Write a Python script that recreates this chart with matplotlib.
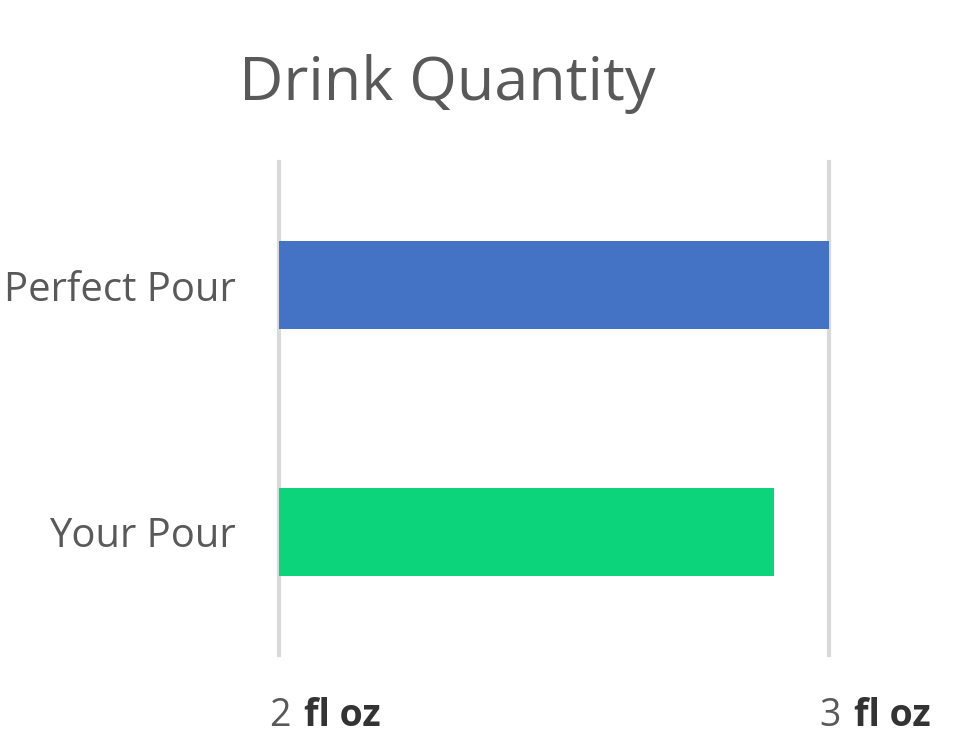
import matplotlib
matplotlib.use("Agg")
import matplotlib.pyplot as plt
from matplotlib.transforms import blended_transform_factory

categories = ["Your Pour", "Perfect Pour"]
values = [2.9, 3.0]
colors = ["#0cd47a", "#4472c4"]
tick_values = [2, 3]
tick_units = "fl oz"

plt.rcParams["font.family"] = ["Open Sans", "DejaVu Sans"]

fig = plt.figure(figsize=(9.67, 7.54), dpi=100)
ax = fig.add_axes([0.2885, 0.1313, 0.5688, 0.6538])

ax.barh(range(len(categories)), [v - 2 for v in values], left=2, height=0.357,
        color=colors, zorder=3)
ax.set_xlim(2, 3)
ax.set_ylim(-0.5, len(categories) - 0.5)

for t in tick_values:
    ax.axvline(t, color="#d9d9d9", linewidth=3, zorder=1, clip_on=False)

for s in ax.spines.values():
    s.set_visible(False)

ax.set_yticks(range(len(categories)))
ax.set_yticklabels(categories, fontsize=28.8, color="#595959")
ax.tick_params(axis="y", length=0, pad=31)
ax.set_xticks([])

trans = blended_transform_factory(ax.transData, fig.transFigure)
for t in tick_values:
    ax.text(t - 0.018, 0.05, str(t), transform=trans, fontsize=27,
            color="#595959", ha="left", va="center")
    ax.text(t + 0.045, 0.05, tick_units, transform=trans, fontsize=27,
            color="#333333", fontweight="bold", ha="left", va="center")

fig.text(0.462, 0.888, "Drink Quantity", fontsize=44, color="#595959",
         ha="center", va="center")

fig.savefig("out.png", dpi=100)
